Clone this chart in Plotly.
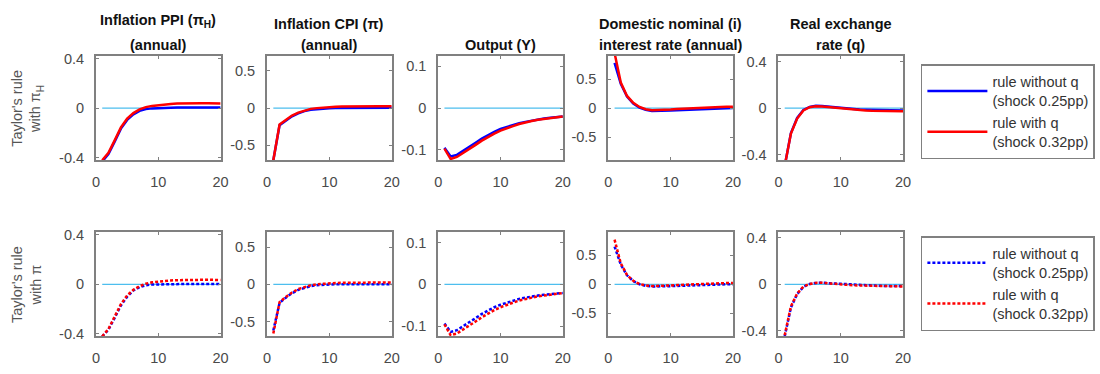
import plotly.graph_objects as go

quarters = list(range(1, 21))
x_tick_vals = [0, 10, 20]
x_tick_text = ["0", "10", "20"]

titles_line1 = ["<b>Inflation PPI (π<sub>H</sub>)</b>", "<b>Inflation CPI (π)</b>", "",
                "<b>Domestic nominal (i)</b>", "<b>Real exchange</b>"]
titles_line2 = ["<b>(annual)</b>", "<b>(annual)</b>", "<b>Output (Y)</b>",
                "<b>interest rate (annual)</b>", "<b>rate (q)</b>"]
row_labels = ["Taylor's rule<br>with π<sub>H</sub>", "Taylor's rule<br>with π"]
legend_names = ["rule without q<br>(shock 0.25pp)", "rule with q<br>(shock 0.32pp)"]

y_limits = [0.42, 0.70, 0.125, 0.90, 0.45]
y_tick_vals = [[-0.4, 0, 0.4], [-0.5, 0, 0.5], [-0.1, 0, 0.1], [-0.5, 0, 0.5], [-0.4, 0, 0.4]]
y_tick_text = [["-0.4", "0", "0.4"], ["-0.5", "0", "0.5"], ["-0.1", "0", "0.1"],
               ["-0.5", "0", "0.5"], ["-0.4", "0", "0.4"]]

# ---- Row 1: Taylor's rule with pi_H ----
ppi_h_without = [-0.43, -0.37, -0.27, -0.165, -0.095, -0.05, -0.022, -0.008, -0.002, 0.001,
                 0.003, 0.004, 0.005, 0.005, 0.005, 0.005, 0.005, 0.005, 0.005, 0.005]
ppi_h_with = [-0.42, -0.36, -0.26, -0.155, -0.085, -0.04, -0.01, 0.008, 0.018, 0.025,
              0.03, 0.034, 0.037, 0.039, 0.04, 0.04, 0.04, 0.04, 0.039, 0.038]
cpi_h_without = [-0.70, -0.23, -0.17, -0.11, -0.07, -0.04, -0.022, -0.012, -0.005, -0.001,
                 0.001, 0.002, 0.003, 0.004, 0.004, 0.005, 0.005, 0.005, 0.005, 0.005]
cpi_h_with = [-0.70, -0.22, -0.16, -0.10, -0.06, -0.03, -0.01, 0.0, 0.008, 0.014,
              0.018, 0.021, 0.023, 0.025, 0.026, 0.026, 0.026, 0.026, 0.025, 0.025]
out_h_without = [-0.095, -0.116, -0.112, -0.103, -0.093, -0.083, -0.073, -0.064, -0.057, -0.050,
                 -0.045, -0.040, -0.036, -0.033, -0.030, -0.027, -0.025, -0.023, -0.021, -0.020]
out_h_with = [-0.097, -0.122, -0.117, -0.108, -0.098, -0.088, -0.078, -0.069, -0.061, -0.054,
              -0.048, -0.043, -0.038, -0.034, -0.031, -0.028, -0.026, -0.024, -0.022, -0.020]
int_h_without = [0.78, 0.42, 0.20, 0.08, 0.01, -0.03, -0.05, -0.052, -0.048, -0.043,
                 -0.037, -0.031, -0.025, -0.020, -0.015, -0.011, -0.007, -0.004, -0.001, 0.002]
int_h_with = [0.95, 0.44, 0.21, 0.09, 0.02, -0.02, -0.035, -0.035, -0.030, -0.024,
              -0.017, -0.010, -0.004, 0.002, 0.007, 0.012, 0.016, 0.019, 0.022, 0.024]
rer_h_without = [-0.50, -0.215, -0.085, -0.016, 0.011, 0.020, 0.019, 0.013, 0.006, 0.0,
                 -0.005, -0.009, -0.012, -0.014, -0.016, -0.017, -0.018, -0.019, -0.019, -0.020]
rer_h_with = [-0.50, -0.22, -0.09, -0.02, 0.008, 0.016, 0.015, 0.010, 0.003, -0.004,
              -0.010, -0.014, -0.017, -0.020, -0.022, -0.023, -0.024, -0.025, -0.025, -0.026]

# ---- Row 2: Taylor's rule with pi ----
ppi_p_without = [-0.42, -0.365, -0.27, -0.17, -0.10, -0.05, -0.022, -0.008, -0.002, 0.0,
                 0.001, 0.002, 0.002, 0.002, 0.002, 0.002, 0.002, 0.002, 0.002, 0.002]
ppi_p_with = [-0.42, -0.36, -0.26, -0.16, -0.09, -0.045, -0.015, 0.005, 0.016, 0.023,
              0.028, 0.031, 0.033, 0.035, 0.036, 0.036, 0.036, 0.036, 0.035, 0.035]
cpi_p_without = [-0.62, -0.25, -0.18, -0.12, -0.075, -0.045, -0.025, -0.012, -0.005, -0.001,
                 0.0, 0.001, 0.001, 0.001, 0.001, 0.001, 0.001, 0.001, 0.001, 0.001]
cpi_p_with = [-0.66, -0.24, -0.17, -0.11, -0.065, -0.035, -0.013, 0.0, 0.009, 0.014,
              0.018, 0.020, 0.022, 0.023, 0.024, 0.024, 0.024, 0.024, 0.024, 0.024]
out_p_without = [-0.094, -0.114, -0.110, -0.101, -0.091, -0.081, -0.071, -0.062, -0.055, -0.049,
                 -0.044, -0.039, -0.035, -0.032, -0.029, -0.027, -0.025, -0.023, -0.022, -0.021]
out_p_with = [-0.096, -0.122, -0.118, -0.109, -0.099, -0.089, -0.079, -0.070, -0.062, -0.055,
              -0.049, -0.044, -0.039, -0.035, -0.032, -0.029, -0.027, -0.025, -0.023, -0.021]
int_p_without = [0.65, 0.34, 0.155, 0.055, 0.0, -0.027, -0.038, -0.040, -0.037, -0.033,
                 -0.028, -0.023, -0.018, -0.014, -0.010, -0.007, -0.004, -0.002, 0.0, 0.002]
int_p_with = [0.77, 0.36, 0.16, 0.06, 0.005, -0.02, -0.03, -0.03, -0.025, -0.02,
              -0.014, -0.008, -0.003, 0.002, 0.007, 0.011, 0.015, 0.018, 0.021, 0.023]
rer_p_without = [-0.45, -0.20, -0.085, -0.022, 0.002, 0.012, 0.013, 0.010, 0.005, 0.0,
                 -0.004, -0.007, -0.009, -0.011, -0.012, -0.013, -0.014, -0.015, -0.015, -0.016]
rer_p_with = [-0.44, -0.19, -0.08, -0.02, 0.003, 0.012, 0.013, 0.010, 0.005, -0.001,
              -0.005, -0.009, -0.011, -0.013, -0.015, -0.016, -0.017, -0.018, -0.018, -0.019]

zero_line = [0.0] * 20

rows = [
    [(ppi_h_without, ppi_h_with), (cpi_h_without, cpi_h_with), (out_h_without, out_h_with),
     (int_h_without, int_h_with), (rer_h_without, rer_h_with)],
    [(ppi_p_without, ppi_p_with), (cpi_p_without, cpi_p_with), (out_p_without, out_p_with),
     (int_p_without, int_p_with), (rer_p_without, rer_p_with)],
]

W, H = 1100, 374
panel_left = [93, 266, 439, 611, 783]
panel_w = 126
row_top = [52.5, 234]
row_h = [107.5, 107.5]

BLUE = "#0000FF"
RED = "#FF0000"
ZERO = "#4DBEEE"
AX = "#808080"
TXT = "#4a4a4a"
FONT = "Liberation Sans, Arial, sans-serif"

fig = go.Figure()
layout = {}
annotations = []
dashes = ["solid", "3px,2px"]
legends = ["legend", "legend2"]

for r in range(2):
    for c in range(5):
        n = r * 5 + c + 1
        xa = "x" if n == 1 else f"x{n}"
        ya = "y" if n == 1 else f"y{n}"
        without, with_q = rows[r][c]
        fig.add_trace(go.Scatter(x=quarters, y=zero_line, mode="lines",
                                 line=dict(color=ZERO, width=1.3),
                                 showlegend=False, hoverinfo="skip", xaxis=xa, yaxis=ya))
        fig.add_trace(go.Scatter(x=quarters, y=without, mode="lines", name=legend_names[0],
                                 line=dict(color=BLUE, width=2.5, dash=dashes[r]),
                                 showlegend=(c == 0), legend=legends[r],
                                 xaxis=xa, yaxis=ya))
        fig.add_trace(go.Scatter(x=quarters, y=with_q, mode="lines", name=legend_names[1],
                                 line=dict(color=RED, width=2.5, dash=dashes[r]),
                                 showlegend=(c == 0), legend=legends[r],
                                 xaxis=xa, yaxis=ya))
        x0 = panel_left[c] / W
        x1 = (panel_left[c] + panel_w) / W
        y1 = 1 - row_top[r] / H
        y0 = 1 - (row_top[r] + row_h[r]) / H
        common = dict(showline=True, linecolor=AX, linewidth=2, mirror="ticks",
                      ticks="inside", ticklen=3, tickwidth=1, tickcolor=AX,
                      showgrid=False, zeroline=False,
                      tickfont=dict(family=FONT, size=14.5, color=TXT))
        layout[f"xaxis{n}"] = dict(domain=[x0, x1], anchor=ya, range=[0, 20],
                                   tickvals=x_tick_vals, ticktext=x_tick_text,
                                   ticklabelstandoff=7, **common)
        lim = y_limits[c]
        layout[f"yaxis{n}"] = dict(domain=[y0, y1], anchor=xa, range=[-lim, lim],
                                   tickvals=y_tick_vals[c], ticktext=y_tick_text[c],
                                   ticklabelstandoff=7, **common)

# Titles
for c in range(5):
    cx = (panel_left[c] + panel_w / 2) / W
    if titles_line1[c]:
        yy = 16 if c == 0 else 20
        annotations.append(dict(text=titles_line1[c], x=cx, y=1 - yy / H, xref="paper", yref="paper",
                                showarrow=False, xanchor="center", yanchor="middle",
                                font=dict(family=FONT, size=14.5, color="#111111")))
    annotations.append(dict(text=titles_line2[c], x=cx, y=1 - 41 / H, xref="paper", yref="paper",
                            showarrow=False, xanchor="center", yanchor="middle",
                            font=dict(family=FONT, size=14.5, color="#111111")))

# Row labels
for r in range(2):
    cy = 1 - (row_top[r] + row_h[r] / 2) / H
    annotations.append(dict(text=row_labels[r], x=23 / W, y=cy, xref="paper", yref="paper",
                            showarrow=False, textangle=-90, xanchor="center", yanchor="middle",
                            font=dict(family=FONT, size=14.5, color="#555555")))

legend_common = dict(xanchor="left", yanchor="top", bgcolor="white", bordercolor=AX,
                     borderwidth=1.5, font=dict(family=FONT, size=14.5, color="#333333"),
                     traceorder="normal", itemwidth=60, valign="middle")
layout["legend"] = dict(x=927 / W, y=1 - 61 / H, **legend_common)
layout["legend2"] = dict(x=927 / W, y=1 - 238 / H, **legend_common)

fig.update_layout(width=W, height=H, margin=dict(l=0, r=0, t=0, b=0),
                  paper_bgcolor="white", plot_bgcolor="white",
                  annotations=annotations, **layout)

fig.write_html("out.html")
